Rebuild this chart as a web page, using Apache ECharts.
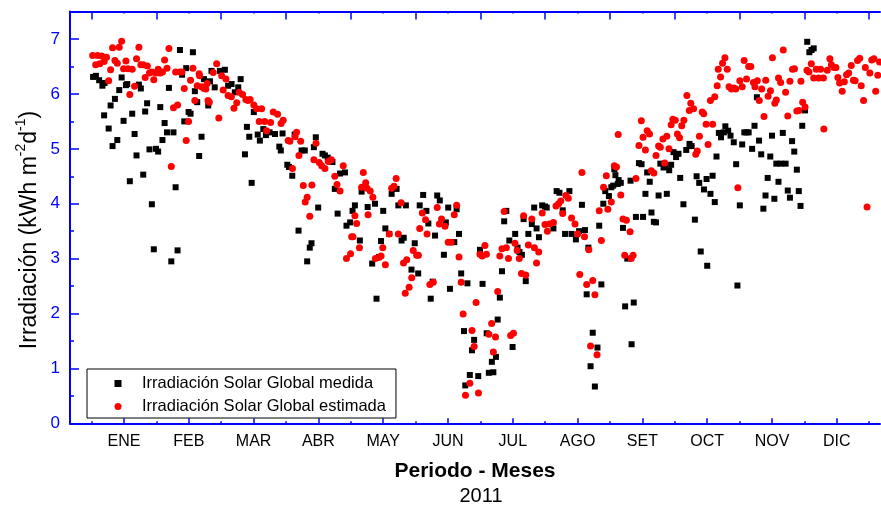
<!DOCTYPE html>
<html>
<head>
<meta charset="utf-8">
<script src="https://cdn.jsdelivr.net/npm/echarts@6/dist/echarts.min.js"></script>
<style>
html,body{margin:0;padding:0;background:#fff;}
#chart{width:881px;height:509px;}
</style>
</head>
<body>
<div id="chart"></div>
<script>
// ---- data ----
var monthLabels = ['ENE','FEB','MAR','ABR','MAY','JUN','JUL','AGO','SET','OCT','NOV','DIC'];
var monthCenters = [15,45,75,105,135,165,195,225,255,285,315,345];
var monthEdges = [0,30,60,90,120,150,180,210,240,270,300,330,360];
var yTicks = [0,1,2,3,4,5,6,7];
var yMinorTicks = [0.5,1.5,2.5,3.5,4.5,5.5,6.5];
var seriesNames = ['Irradiación Solar Global medida','Irradiación Solar Global estimada'];

// [day of year, kWh m-2 d-1]
var measured = [
[0.7,6.31],[2,6.33],[3.5,6.25],[5,6.15],[6,6.2],[5.8,5.61],[7.9,5.37],[8.8,5.79],[9.7,5.05],[10.8,5.91],
[11.9,5.16],[12.8,6.07],[13.9,6.3],[14.8,5.51],[15.9,6.16],[16.5,6.18],[17.7,4.41],[18.8,5.64],[19.9,5.27],[20.8,4.88],
[21.9,6.17],[22.8,6.1],[23.9,4.53],[24.8,5.68],[25.7,5.83],[26.8,4.99],[27.9,3.99],[28.8,3.17],[29.8,5.0],[30.8,4.95],
[31.8,5.76],[32.8,5.16],[33.8,5.47],[34.9,5.3],[35.8,6.11],[36.9,2.95],[37.9,5.3],[38.9,4.3],[39.8,3.15],[40.9,6.8],
[41.9,6.35],[42.9,5.5],[43.8,6.47],[44.9,5.67],[45.8,5.64],[46.9,6.76],[47.8,6.05],[48.9,5.85],[49.8,4.87],[50.9,5.22],
[52,6.27],[54,5.79],[54.8,6.23],[55.5,6.42],[57,6.12],[59.4,6.42],[61.7,6.44],[63.2,6.15],[64.8,6.18],[66.3,6.03],
[67.9,6.12],[69,6.27],[71,4.9],[71.9,5.4],[73,5.22],[74.1,4.38],[75.1,5.67],[76.9,5.26],[77.9,5.15],[79.5,5.36],
[80.7,5.25],[82.4,5.3],[84.9,5.27],[86.9,5.04],[87.6,4.97],[88.4,5.28],[90.6,4.71],[91.4,4.67],[92.9,4.51],[94,5.26],
[95.8,3.51],[97.2,4.97],[98.7,4.97],[99.8,2.95],[101,3.2],[101.8,3.28],[102.9,5.03],[103.8,5.21],[104.9,3.93],[106.9,4.91],
[108,4.88],[109.3,4.84],[111.5,4.76],[112.6,4.27],[113.9,3.82],[115,4.55],[117.3,4.57],[118,3.6],[119.7,3.66],[120.8,3.87],
[121.9,3.97],[124.2,3.33],[125,4.22],[126.5,4.3],[127.8,3.94],[129.9,2.91],[131.2,4.0],[131.9,2.27],[133.1,3.03],[134,3.32],
[135,3.87],[136,3.55],[137.8,3.45],[138.9,4.18],[141.2,4.27],[142,3.97],[143.5,3.33],[144.5,3.38],[145.5,3.97],[148.1,2.8],
[149.6,3.28],[151.2,2.73],[151.9,3.97],[153.5,4.16],[155,3.87],[155.9,3.64],[157,2.27],[157.9,2.58],[159,3.42],[160,4.15],
[161.2,4.06],[163.1,3.07],[164,3.66],[165.1,3.93],[165.9,2.45],[167.9,3.3],[169,3.9],[170.1,3.45],[171.1,2.73],[172.4,1.68],
[173,0.69],[174,2.55],[175.1,0.88],[176.1,1.33],[177.1,1.52],[179,0.86],[179.8,3.16],[181,2.54],[182.9,1.64],[183.9,0.92],
[185.3,1.12],[186,0.93],[187.2,1.21],[188,1.89],[189,2.29],[190,2.77],[191,3.68],[192,3.87],[193.4,3.33],[194.9,1.39],
[196.1,3.45],[197.2,3.2],[198.1,3.12],[199.2,3.07],[200,3.72],[201,2.59],[202.2,3.45],[203.8,3.63],[204.9,3.93],[206,3.55],
[207.1,3.39],[208.6,3.97],[209.9,3.95],[210.7,3.93],[213.8,3.55],[215.3,4.23],[216.6,4.2],[218.1,3.88],[219.2,3.45],[221.2,4.23],
[222.2,3.45],[224.2,3.35],[225.7,3.5],[227,3.98],[228.4,3.52],[229.2,2.35],[230,3.2],[231,1.04],[232,1.65],[233,0.67],
[234.2,1.38],[235,3.6],[236,2.53],[236.9,4.0],[237.8,4.23],[239.5,4.14],[240.6,4.3],[242,4.63],[243.6,4.36],[241.5,4.33],
[242.5,4.52],[244,4.43],[245,4.38],[246,3.56],[247,2.13],[248,3.0],[249.5,4.42],[250,1.44],[251,2.2],[252,3.76],
[253.4,4.74],[254.6,4.72],[255.3,3.76],[256.4,4.18],[257.2,4.57],[258.4,4.4],[259.2,3.84],[260.3,3.67],[261.3,3.66],[262.5,4.15],
[263.3,4.73],[264.8,4.66],[265.5,4.69],[266.3,4.18],[267.4,4.61],[268.3,4.71],[269.4,4.94],[270.6,4.85],[271.7,4.91],[272.5,4.47],
[274,3.99],[275.3,4.98],[276.8,5.09],[277.8,5.05],[279.3,3.71],[280.1,4.5],[281.3,4.38],[282,3.13],[283.5,4.26],[284.7,4.45],
[285,2.87],[286.5,4.18],[287.5,4.51],[288.5,4.03],[289.3,4.86],[290.4,5.29],[291.4,5.21],[292.7,5.3],[293.4,5.41],[294.7,5.33],
[295.8,5.24],[297.3,5.12],[298.4,4.72],[299,2.51],[300.1,3.97],[301.2,5.08],[302.2,5.3],[303.2,5.3],[304.2,5.3],[305.8,5.0],
[306.9,5.42],[308,5.94],[309,5.15],[310,4.9],[311,3.91],[312,4.15],[313,4.47],[314.2,4.86],[315,5.24],[316.1,4.09],
[317,4.73],[318,4.4],[319,4.73],[320,5.29],[321.3,4.73],[322.3,4.24],[323.3,4.11],[324.3,5.14],[325.3,4.95],[326.5,4.62],
[327.4,4.23],[328.2,3.96],[329,5.42],[330.3,5.7],[331.3,6.95],[332.3,6.76],[333.3,6.8],[334.3,6.83]
];

var estimated = [
[0.5,6.7],[1.9,6.53],[2.8,6.7],[3.8,6.55],[4.7,6.69],[5.8,6.59],[6.9,6.67],[7.9,6.24],[8.8,6.44],[9.7,6.84],
[10.8,6.61],[11.9,6.56],[12.8,6.85],[13.9,6.96],[14.8,6.46],[15.9,6.6],[16.9,6.46],[17.7,5.99],[18.8,6.45],[19.9,6.14],
[20.8,6.64],[21.9,6.85],[22.8,6.53],[23.9,6.53],[24.8,6.3],[25.8,6.51],[26.8,6.38],[27.9,6.4],[28.8,6.26],[29.8,6.38],
[30.8,6.45],[31.8,6.38],[32.8,6.4],[33.8,6.62],[34.9,6.47],[35.8,6.83],[36.9,4.68],[37.9,5.75],[38.9,6.4],[39.8,5.8],
[40.9,6.4],[41.8,6.4],[42.9,6.1],[43.8,5.15],[44.9,5.5],[45.8,6.25],[46.9,6.47],[47.8,5.88],[48.9,6.15],[49.8,6.37],
[50.9,6.13],[52,6.1],[52.9,6.09],[53.9,5.88],[50,6.33],[53.5,6.19],[54.5,5.85],[56.3,6.39],[57.9,6.55],[58.9,5.56],
[60.2,6.33],[60.9,6.07],[62.2,6.27],[63.2,5.97],[64.7,5.95],[65.9,5.74],[67.2,5.84],[68.3,6.03],[69.9,5.99],[71.4,5.9],
[72.4,5.88],[73.4,5.9],[75.1,5.8],[76.4,5.73],[77.6,5.5],[78.7,5.73],[80.2,5.5],[81,5.33],[82.9,5.48],[84.1,5.67],
[86.1,5.63],[87.7,5.46],[88.7,5.52],[91,5.15],[91.8,5.14],[93,4.64],[94.2,5.22],[94.9,5.3],[96,4.88],[96.8,5.14],
[98,4.33],[98.9,4.03],[99.8,4.12],[101,3.77],[102,4.34],[102.9,4.8],[103.9,5.1],[105.4,4.75],[106.5,4.69],[108,4.64],
[109.6,4.77],[111,4.8],[112.6,4.5],[113.6,4.35],[115,4.23],[116.5,4.69],[118,3.0],[119.9,3.09],[120.4,3.4],[121,3.4],
[121.9,3.78],[122.7,3.64],[124,3.2],[125,4.3],[125.8,4.57],[126.9,4.38],[127.5,4.28],[128,3.8],[129,4.23],[130.2,4.12],
[131.4,3.0],[133,3.02],[134,3.05],[134.8,3.2],[136,2.89],[137.8,3.45],[138.9,4.28],[140,4.32],[141,4.46],[142,3.45],
[143.3,4.02],[144.4,2.92],[145.2,2.37],[145.9,2.98],[147,2.48],[148.2,2.65],[148.9,3.15],[150.5,3.06],[151.3,3.06],[151.9,3.55],
[153.1,3.83],[154.6,3.71],[155.3,3.45],[156.6,2.53],[158.2,2.57],[160,3.93],[161,3.63],[162,3.72],[163.6,3.59],[165.1,3.3],
[166.5,3.3],[167.9,3.8],[169,3.97],[170.1,3.03],[171.1,2.57],[172,1.99],[173.1,0.51],[175.1,0.73],[176.1,1.69],[177.1,1.4],
[178,2.2],[179.1,0.55],[179.8,3.08],[180.8,3.05],[182.1,3.24],[182.8,3.08],[183.9,1.62],[185.2,1.82],[186,1.3],[187,1.57],
[188,2.4],[189,3.05],[190,3.18],[191,3.86],[192,3.2],[193,3.0],[194,1.6],[195.3,1.64],[196,3.28],[197,3.15],
[198,3.0],[199,2.73],[200,3.78],[201,2.7],[202.2,3.25],[203.8,3.72],[205,3.2],[206,2.92],[207,3.12],[208.6,3.83],
[209.9,3.62],[211,3.5],[212,3.63],[213.8,3.66],[215,3.96],[216.2,4.0],[217.2,4.05],[218.1,3.82],[219.6,4.15],[220.7,4.1],
[222.2,3.74],[223.8,3.63],[225,3.45],[226,2.71],[227,4.57],[228.2,3.4],[229.2,2.53],[230.2,3.16],[231,1.41],[232,2.6],
[233,2.34],[234,1.25],[235,3.87],[236,3.33],[237,4.3],[238.3,4.51],[239,3.9],[240.6,4.03],[242,4.69],[243,4.67],
[243.8,5.26],[245,4.16],[246,3.72],[246.8,3.06],[247.6,3.7],[249.3,3.49],[249.8,3.0],[250.7,3.06],[252,4.46],[253.4,5.06],
[254.5,5.51],[255.3,5.21],[256.4,4.98],[257.2,5.33],[258.3,5.27],[259.1,4.6],[260.3,4.56],[261.3,4.88],[262.5,5.05],[263.3,5.03],
[264.5,5.18],[265.3,4.74],[266.3,5.23],[267.3,5.0],[268.3,5.44],[269.1,5.54],[270.2,5.52],[271.2,5.27],[272.2,5.2],[273.2,5.42],
[274.2,5.52],[275.6,5.97],[276.7,5.7],[277.4,5.83],[278.7,5.73],[279.7,4.9],[280.4,4.96],[281.4,5.23],[282.7,5.67],[283.4,5.64],
[284.5,5.45],[285.4,5.08],[286.5,5.88],[287.5,5.45],[288.5,5.95],[289.6,6.15],[290.1,6.45],[291.2,6.31],[292.1,6.56],[293.2,6.66],
[294.3,6.45],[295.1,6.13],[296.2,6.09],[297.4,6.11],[298.2,6.09],[299.2,4.29],[300.1,6.24],[301.2,6.13],[302.1,6.61],[303.2,6.27],
[304.2,6.5],[305.2,6.5],[306.4,6.21],[307.1,6.13],[308.2,6.24],[309.1,5.88],[310.2,6.09],[311.3,5.59],[312.1,6.25],[313.2,5.96],
[314.3,6.06],[315.2,6.66],[316.3,5.83],[317,5.89],[318,6.29],[319,6.21],[320.2,6.8],[321.3,6.03],[322.3,5.6],[323.3,6.23],
[324.5,6.45],[325.4,6.46],[326.5,5.69],[327.5,5.7],[328.4,6.23],[329.2,5.85],[330.3,5.76],[331.2,6.43],[332.1,6.4],[333.2,6.55],
[334.3,6.29],[335.5,6.45],[336.6,6.29],[337.5,6.45],[338.8,6.29],[339,5.36],[340.6,6.43],[341.8,6.64],[342.5,6.53],[343.7,6.48],
[344.6,6.48],[345.5,6.3],[346.3,6.2],[347.5,6.05],[348.5,6.22],[349.5,6.35],[350.5,6.38],[351.7,6.52],[352.7,6.25],[353.5,6.24],
[354.6,6.61],[355.6,6.65],[356.3,6.15],[357.4,5.88],[358.2,6.48],[359,3.94],[360.3,6.38],[361.2,6.62],[362.2,6.64],[363,6.05],
[364,6.34],[364.8,6.58]
];

// ---- chart ----
var FONT = 'Liberation Sans, Arial, sans-serif';
var BLUE = '#0000ff';
var chart = echarts.init(document.getElementById('chart'), null, {renderer: 'canvas'});

function xAx(pos, ticks, len, showLine, showLabel) {
  return {
    type: 'value', min: -10, max: 365, position: pos,
    axisLine: {show: showLine, onZero: false, lineStyle: {color: BLUE, width: 2}},
    axisTick: {show: true, inside: true, length: len, customValues: ticks, lineStyle: {color: BLUE, width: 1.5}},
    axisLabel: showLabel ? {
      show: true, customValues: monthCenters, margin: 10, color: '#000', fontSize: 16, fontFamily: FONT,
      formatter: function (v) { var i = monthCenters.indexOf(v); return i >= 0 ? monthLabels[i] : ''; }
    } : {show: false},
    splitLine: {show: false}
  };
}

var option = {
  animation: false,
  backgroundColor: '#fff',
  grid: {left: 70, right: 1, top: 11.6, bottom: 85.7, containLabel: false},
  xAxis: [
    xAx('bottom', monthCenters, 5, true, true),
    xAx('bottom', monthEdges, 2, false, false),
    xAx('top', monthEdges, 8, true, false),
    xAx('top', monthCenters, 2, false, false)
  ],
  yAxis: [
    {
      type: 'value', min: 0, max: 7.5, position: 'left',
      axisLine: {show: true, onZero: false, lineStyle: {color: BLUE, width: 2}},
      axisTick: {show: true, inside: true, length: 9, customValues: yTicks, lineStyle: {color: BLUE, width: 1.5}},
      axisLabel: {show: true, customValues: yTicks, margin: 10, color: BLUE, fontSize: 17, fontFamily: FONT},
      splitLine: {show: false}
    },
    {
      type: 'value', min: 0, max: 7.5, position: 'left',
      axisLine: {show: false, onZero: false},
      axisTick: {show: true, inside: true, length: 4, customValues: yMinorTicks, lineStyle: {color: BLUE, width: 1.5}},
      axisLabel: {show: false},
      splitLine: {show: false}
    }
  ],
  legend: {
    left: 87, top: 369, orient: 'vertical',
    backgroundColor: '#fff', borderColor: '#000', borderWidth: 1, borderRadius: 0,
    padding: [6, 10, 3, 27.5], itemWidth: 7, itemHeight: 7, itemGap: 6,
    textStyle: {fontSize: 16.5, color: '#000', fontFamily: FONT, lineHeight: 14, padding: [0, 0, 0, 15.5]},
    selectedMode: false,
    data: [{name: seriesNames[0], icon: 'rect'}, {name: seriesNames[1], icon: 'circle'}]
  },
  graphic: [
    {
      type: 'text', x: 28, y: 230, rotation: Math.PI / 2,
      style: {
        text: '{n|Irradiación (kWh m}{s|-2}{n|d}{s|-1}{n|)}',
        align: 'center', verticalAlign: 'middle',
        rich: {
          n: {fontSize: 23, fontFamily: FONT, fill: '#000', lineHeight: 27, verticalAlign: 'bottom'},
          s: {fontSize: 14, fontFamily: FONT, fill: '#000', lineHeight: 16, verticalAlign: 'top'}
        }
      }
    },
    {
      type: 'text', x: 475, y: 471,
      style: {text: 'Periodo - Meses', align: 'center', verticalAlign: 'middle', fontSize: 21, fontWeight: 'bold', fontFamily: FONT, fill: '#000'}
    },
    {
      type: 'text', x: 481, y: 496,
      style: {text: '2011', align: 'center', verticalAlign: 'middle', fontSize: 20, fontFamily: FONT, fill: '#000'}
    }
  ],
  series: [
    {
      type: 'scatter', name: seriesNames[0], symbol: 'rect', symbolSize: 6,
      xAxisIndex: 0, yAxisIndex: 0, itemStyle: {color: '#000', opacity: 1}, data: measured
    },
    {
      type: 'scatter', name: seriesNames[1], symbol: 'circle', symbolSize: 7,
      xAxisIndex: 0, yAxisIndex: 0, itemStyle: {color: '#ff0000', opacity: 1}, data: estimated
    }
  ]
};
chart.setOption(option);
</script>
</body>
</html>
